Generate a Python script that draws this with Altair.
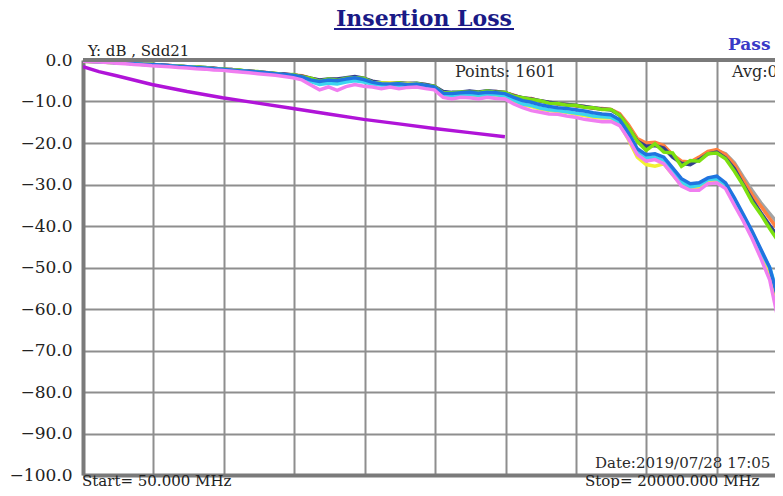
import altair as alt
import pandas as pd

# ---------------- data ----------------
FREQ_MHZ = [
    50, 250, 500, 750, 1000, 1250, 1500, 1750, 2000, 2250,
    2500, 2750, 3000, 3250, 3500, 3750, 4000, 4250, 4500, 4750,
    5000, 5250, 5500, 5750, 6000, 6250, 6500, 6750, 7000, 7250,
    7500, 7750, 8000, 8250, 8500, 8750, 9000, 9250, 9500, 9750,
    10000, 10250, 10500, 10750, 11000, 11250, 11500, 11750, 12000, 12250,
    12500, 12750, 13000, 13250, 13500, 13750, 14000, 14250, 14500, 14750,
    15000, 15250, 15500, 15750, 16000, 16250, 16500, 16750, 17000, 17250,
    17500, 17750, 18000, 18250, 18500, 18750, 19000, 19250, 19500, 19750,
    20000,
]

GRAY_DB = [
    -0.2, -0.3, -0.4, -0.5, -0.6, -0.7, -0.9, -1.0, -1.1, -1.2,
    -1.4, -1.5, -1.6, -1.8, -1.9, -2.0, -2.2, -2.3, -2.5, -2.7,
    -2.9, -3.1, -3.3, -3.5, -3.6, -3.9, -4.5, -5.0, -4.7, -4.8,
    -4.5, -4.2, -4.5, -5.3, -5.6, -5.7, -5.6, -5.8, -5.7, -6.0,
    -6.4, -7.8, -8.0, -7.8, -7.7, -7.9, -7.6, -7.7, -7.9, -8.6,
    -9.2, -9.4, -9.9, -10.3, -10.6, -10.8, -11.0, -11.3, -11.6, -11.8,
    -12.0, -13.2, -16.0, -19.2, -20.4, -20.2, -20.8, -23.0, -24.6, -24.8,
    -23.6, -22.2, -21.8, -22.6, -24.8, -28.2, -31.4, -34.4, -37.0, -39.6,
    -42.0,
]
ORANGE_DB = [
    -0.2, -0.3, -0.4, -0.5, -0.6, -0.7, -0.8, -1.0, -1.1, -1.2,
    -1.3, -1.5, -1.6, -1.7, -1.9, -2.0, -2.2, -2.3, -2.5, -2.6,
    -2.9, -3.0, -3.3, -3.4, -3.6, -3.8, -4.4, -4.9, -4.7, -4.7,
    -4.5, -4.2, -4.5, -5.2, -5.6, -5.6, -5.7, -5.7, -5.8, -5.9,
    -6.4, -7.7, -8.0, -7.9, -7.6, -7.9, -7.7, -7.6, -7.9, -8.5,
    -9.2, -9.3, -9.9, -10.2, -10.6, -10.7, -11.0, -11.2, -11.6, -11.7,
    -11.9, -12.9, -15.6, -18.9, -20.0, -19.8, -20.6, -22.8, -24.4, -24.6,
    -23.4, -22.0, -21.6, -22.8, -25.2, -28.8, -32.4, -35.2, -38.2, -41.0,
    -43.0,
]
NAVY_DB = [
    -0.2, -0.3, -0.4, -0.5, -0.6, -0.7, -0.8, -1.0, -1.1, -1.2,
    -1.3, -1.5, -1.6, -1.7, -1.8, -2.0, -2.2, -2.3, -2.5, -2.7,
    -2.9, -3.1, -3.3, -3.4, -3.6, -3.9, -4.4, -4.8, -4.6, -4.6,
    -4.3, -4.0, -4.4, -5.1, -5.5, -5.6, -5.5, -5.6, -5.6, -5.9,
    -6.3, -7.6, -7.8, -7.7, -7.5, -7.7, -7.4, -7.6, -7.8, -8.6,
    -9.1, -9.4, -9.8, -10.2, -10.5, -10.7, -10.9, -11.2, -11.5, -11.8,
    -12.0, -13.3, -16.3, -19.5, -20.8, -20.6, -21.2, -23.4, -24.9, -25.2,
    -24.0, -22.6, -22.2, -23.6, -26.2, -30.0, -33.6, -36.8, -39.8, -42.8,
    -45.0,
]
GREEN_DB = [
    -0.3, -0.4, -0.3, -0.6, -0.7, -0.6, -0.9, -1.1, -1.0, -1.3,
    -1.4, -1.4, -1.7, -1.7, -1.8, -2.1, -2.1, -2.4, -2.4, -2.8,
    -2.8, -3.2, -3.2, -3.6, -3.5, -4.0, -4.4, -5.1, -4.6, -4.9,
    -4.4, -4.3, -4.4, -5.4, -5.5, -5.8, -5.5, -5.9, -5.6, -6.1,
    -6.3, -7.9, -7.9, -7.7, -7.8, -7.8, -7.5, -7.8, -7.8, -8.7,
    -9.1, -9.5, -9.8, -10.4, -10.5, -10.9, -10.9, -11.4, -11.5, -11.9,
    -11.9, -13.3, -16.2, -19.6, -21.8, -20.2, -22.2, -22.4, -25.6, -24.2,
    -24.4, -22.6, -22.4, -23.8, -26.8, -30.2, -34.2, -37.2, -40.6, -43.8,
    -46.5,
]
YELLOW_DB = [
    -0.2, -0.3, -0.4, -0.5, -0.6, -0.7, -0.9, -1.0, -1.1, -1.3,
    -1.4, -1.5, -1.7, -1.8, -2.0, -2.1, -2.3, -2.4, -2.6, -2.8,
    -3.0, -3.2, -3.4, -3.6, -3.8, -4.2, -5.0, -5.6, -5.2, -5.4,
    -4.8, -4.6, -4.9, -5.5, -5.6, -5.5, -5.7, -5.6, -5.8, -6.2,
    -6.8, -8.6, -8.7, -8.6, -8.4, -8.7, -8.5, -8.4, -8.8, -9.8,
    -10.8, -11.2, -11.8, -12.2, -12.4, -12.6, -13.0, -13.4, -13.8, -14.0,
    -14.0, -15.4, -19.2, -23.4, -25.2, -25.6, -25.0, -27.6, -30.2, -31.0,
    -30.6, -29.4, -29.0, -30.6, -34.4, -38.4, -42.4, -47.2, -52.0, -61.0,
    -70.0,
]
CYAN_DB = [
    -0.2, -0.3, -0.4, -0.5, -0.7, -0.8, -0.9, -1.1, -1.2, -1.3,
    -1.4, -1.6, -1.7, -1.8, -2.0, -2.1, -2.3, -2.5, -2.6, -2.8,
    -3.0, -3.2, -3.4, -3.6, -3.9, -4.3, -5.2, -5.9, -5.6, -5.8,
    -5.3, -5.0, -5.3, -5.8, -6.0, -6.0, -6.1, -6.0, -6.1, -6.3,
    -6.8, -8.4, -8.6, -8.5, -8.3, -8.5, -8.3, -8.4, -8.6, -9.6,
    -10.6, -11.0, -11.6, -12.0, -12.2, -12.5, -12.8, -13.1, -13.5, -13.7,
    -13.8, -15.0, -18.4, -22.2, -23.6, -23.4, -24.2, -26.8, -29.4, -30.6,
    -30.2, -28.8, -28.6, -30.0, -33.6, -37.8, -41.6, -46.2, -50.0, -57.0,
    -66.0,
]
BLUE_DB = [
    -0.2, -0.3, -0.4, -0.5, -0.6, -0.7, -0.9, -1.0, -1.1, -1.2,
    -1.4, -1.5, -1.6, -1.8, -1.9, -2.1, -2.2, -2.4, -2.6, -2.7,
    -2.9, -3.1, -3.3, -3.5, -3.7, -4.1, -4.8, -5.2, -4.8, -5.0,
    -4.6, -4.3, -4.7, -5.4, -5.7, -5.8, -5.7, -5.9, -5.8, -6.1,
    -6.5, -8.0, -8.1, -7.9, -7.8, -8.0, -7.8, -7.9, -8.1, -9.0,
    -9.8, -10.2, -10.8, -11.2, -11.5, -11.7, -12.0, -12.3, -12.7, -13.0,
    -13.2, -14.4, -17.6, -21.4, -22.8, -22.6, -23.4, -26.0, -28.6, -29.8,
    -29.6, -28.4, -28.0, -29.6, -33.2, -37.2, -41.2, -45.6, -50.0, -58.0,
    -67.0,
]
PINK_DB = [
    -0.3, -0.4, -0.5, -0.6, -0.8, -0.9, -1.1, -1.2, -1.4, -1.5,
    -1.6, -1.8, -1.9, -2.1, -2.2, -2.4, -2.5, -2.7, -2.9, -3.1,
    -3.3, -3.5, -3.7, -4.0, -4.3, -4.8, -6.0, -7.2, -6.5, -7.3,
    -6.4, -5.9, -6.3, -6.5, -6.9, -6.5, -6.9, -6.6, -6.5, -6.9,
    -7.2, -9.0, -9.4, -9.0, -9.1, -9.4, -9.0, -9.3, -9.4, -10.6,
    -11.5, -12.2, -12.6, -13.0, -13.1, -13.5, -13.8, -14.3, -14.6, -14.9,
    -14.8, -15.8, -19.0, -22.8, -24.4, -24.0, -25.0, -27.6, -30.4, -31.4,
    -31.4, -29.8, -29.6, -31.0, -35.0, -38.8, -43.0, -47.8, -53.0, -63.0,
    -74.0,
]

LIMIT_FREQ_MHZ = [50, 500, 1000, 2000, 3000, 4000, 5000, 6000, 7000, 8000, 9000, 10000, 11000, 12000]
LIMIT_DB = [-1.6, -2.8, -3.8, -5.9, -7.6, -9.1, -10.4, -11.7, -13.0, -14.3, -15.4, -16.5, -17.5, -18.5]

Y_TICKS = [0, -10, -20, -30, -40, -50, -60, -70, -80, -90, -100]
X_GRID_MHZ = [50, 2045, 4040, 6035, 8030, 10025, 12020, 14015, 16010, 18005, 20000]
# the screen shows the sweep up to about 19650 MHz; the rest lies beyond the right edge
X_VISIBLE_MHZ = [50, 19650]

TRACES = [
    ("gray", GRAY_DB, "#a3a3a3"),
    ("orange", ORANGE_DB, "#ff8040"),
    ("navy", NAVY_DB, "#34408c"),
    ("green", GREEN_DB, "#7ce010"),
    ("yellow", YELLOW_DB, "#f2f032"),
    ("cyan", CYAN_DB, "#3cd6f0"),
    ("blue", BLUE_DB, "#1f74e0"),
    ("pink", PINK_DB, "#f07ef0"),
]

SERIF = "DejaVu Serif"
FRAME = "#7a7a7a"
GRID = "#8e8e8e"

# ---------------- scales / encodings ----------------
x_enc = alt.X(
    "f:Q",
    scale=alt.Scale(domain=X_VISIBLE_MHZ, nice=False, zero=False),
    axis=alt.Axis(values=X_GRID_MHZ, labels=False, ticks=False,
                  domain=True, domainColor=FRAME, domainWidth=4,
                  grid=True, gridColor=GRID, gridWidth=2, title=None),
)
y_enc = alt.Y(
    "db:Q",
    scale=alt.Scale(domain=[-100, 0], nice=False, zero=False),
    axis=alt.Axis(values=Y_TICKS, format=".1f", ticks=False,
                  domain=True, domainColor=FRAME, domainWidth=4,
                  grid=True, gridColor=GRID, gridWidth=2, title=None,
                  labelFont=SERIF, labelFontSize=17, labelColor="#222222",
                  labelPadding=11),
)

layers = []
for name, vals, col in TRACES:
    df = pd.DataFrame({"f": FREQ_MHZ, "db": vals})
    layers.append(
        alt.Chart(df).mark_line(color=col, strokeWidth=3.5, clip=True).encode(x=x_enc, y=y_enc)
    )

limit_df = pd.DataFrame({"f": LIMIT_FREQ_MHZ, "db": LIMIT_DB})
layers.append(
    alt.Chart(limit_df).mark_line(color="#b014d8", strokeWidth=3.4, clip=True).encode(x=x_enc, y=y_enc)
)

# top frame line
layers.append(
    alt.Chart(pd.DataFrame({"t": [0]})).mark_rule(color=FRAME, strokeWidth=4).encode(y=alt.value(0))
)


def label(text, x, y, size, color="#222222", weight="normal", align="left", baseline="alphabetic"):
    return alt.Chart(pd.DataFrame({"t": [text]})).mark_text(
        font=SERIF, fontSize=size, fontWeight=weight, color=color,
        align=align, baseline=baseline,
    ).encode(x=alt.value(x), y=alt.value(y), text="t:N")


layers += [
    label("Insertion Loss", 341, -34.5, 22, color="#1a1a86", weight="bold", align="center"),
    alt.Chart(pd.DataFrame({"t": [0]})).mark_rule(color="#1a1a86", strokeWidth=2).encode(
        x=alt.value(251), x2=alt.value(431), y=alt.value(-31)
    ),
    label("Pass", 645, -10, 17, color="#3a3ac6", weight="bold"),
    label("Y: dB , Sdd21", 5, -4, 15),
    label("Points: 1601", 372, 17, 16, color="#2a2a2a"),
    label("Avg:0", 649, 17, 16, color="#2a2a2a"),
    label("Date:2019/07/28 17:05", 512, 408, 15, color="#2a2a2a"),
    label("Start= 50.000 MHz", -1, 425.5, 15),
    label("Stop=  20000.000 MHz", 502, 425.5, 15),
]

chart = (
    alt.layer(*layers)
    .properties(
        width=692,
        height=415,
        padding={"left": 75, "top": 52, "right": 0, "bottom": 13},
        autosize=alt.AutoSizeParams(type="none"),
        background="white",
    )
    .configure_view(stroke="transparent", strokeWidth=0)
)

chart.save("out.html", embed_options={"renderer": "svg", "actions": False})
